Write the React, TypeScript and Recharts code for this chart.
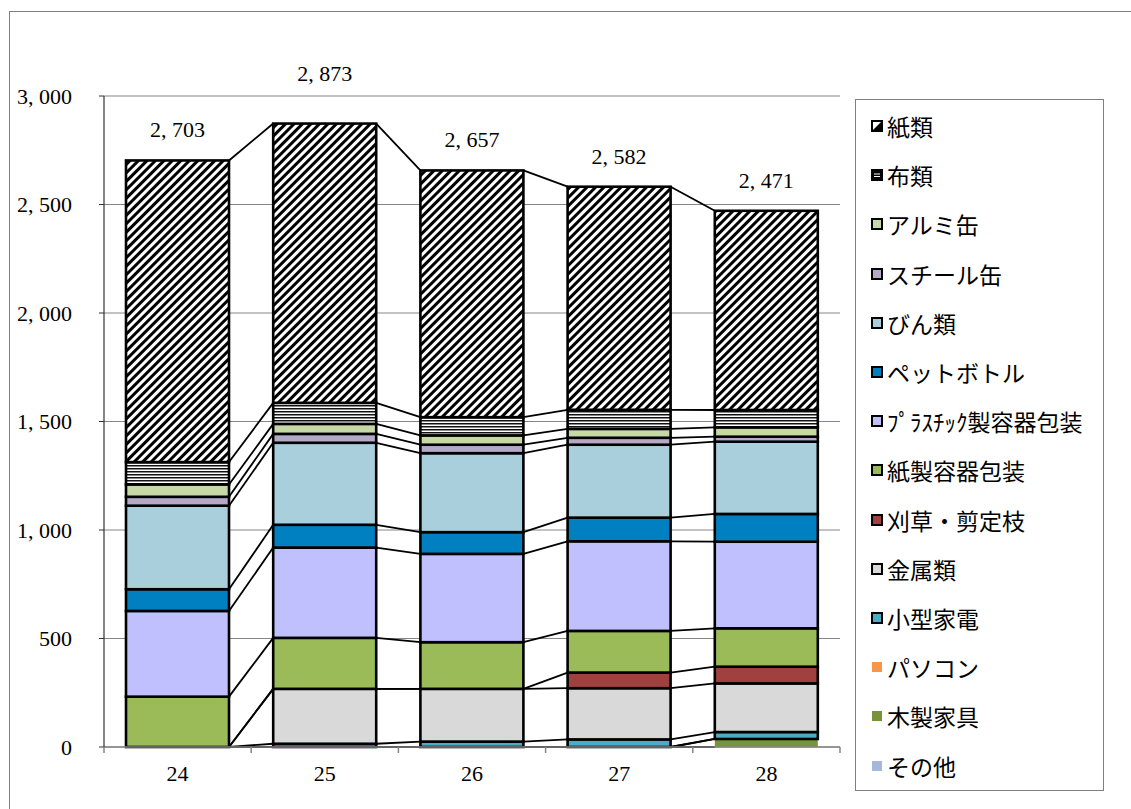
import { BarChart, Bar, XAxis, YAxis, CartesianGrid, LabelList } from 'recharts';

// 年度別の資源回収量（t）— 値はグラフから読み取り
const years = ['24', '25', '26', '27', '28'];
const totals = [2703, 2873, 2657, 2582, 2471];
const yTicks = [0, 500, 1000, 1500, 2000, 2500, 3000];

const sonota = [0, 0, 0, 0, 0];
const mokuseiKagu = [0, 0, 0, 0, 37];
const pasokon = [0, 0, 0, 0, 0];
const kogataKaden = [0, 15, 25, 35, 32];
const kinzoku = [0, 253, 243, 236, 224];
const karikusa = [0, 0, 0, 72, 77];
const kamiYoki = [232, 235, 215, 192, 177];
const pura = [395, 416, 407, 413, 399];
const petto = [100, 105, 100, 109, 128];
const bin = [385, 378, 364, 336, 333];
const steel = [41, 41, 39, 32, 23];
const alumi = [57, 46, 43, 41, 43];
const nuno = [103, 97, 84, 88, 80];
const kami = [1390, 1287, 1137, 1028, 918];

const FONT = '"Times New Roman", "Liberation Serif", "DejaVu Serif", "Noto Sans CJK JP", serif';

// bottom of the stack first
const SERIES = [
  { key: 'sonota', name: 'その他', values: sonota, fill: '#A6B9DA', border: false },
  { key: 'mokusei', name: '木製家具', values: mokuseiKagu, fill: '#77933C', border: false },
  { key: 'pasokon', name: 'パソコン', values: pasokon, fill: '#F79646', border: false },
  { key: 'kaden', name: '小型家電', values: kogataKaden, fill: '#4BACC6', border: true },
  { key: 'kinzoku', name: '金属類', values: kinzoku, fill: '#D9D9D9', border: true },
  { key: 'karikusa', name: '刈草・剪定枝', values: karikusa, fill: '#A0413F', border: true },
  { key: 'kamiYoki', name: '紙製容器包装', values: kamiYoki, fill: '#9BBB59', border: true },
  { key: 'pura', name: 'ﾌﾟﾗｽﾁｯｸ製容器包装', values: pura, fill: '#C0C0FF', border: true },
  { key: 'petto', name: 'ペットボトル', values: petto, fill: '#0080C0', border: true },
  { key: 'bin', name: 'びん類', values: bin, fill: '#A9CEDC', border: true },
  { key: 'steel', name: 'スチール缶', values: steel, fill: '#B5A9C8', border: true },
  { key: 'alumi', name: 'アルミ缶', values: alumi, fill: '#C6D8A6', border: true },
  { key: 'nuno', name: '布類', values: nuno, fill: 'url(#nunoPat)', border: true },
  { key: 'kami', name: '紙類', values: kami, fill: 'url(#kamiPat)', border: true },
];

const rows = years.map((year, i) => {
  const row: Record<string, string | number> = { year };
  SERIES.forEach((s) => {
    row[s.key] = s.values[i];
  });
  return row;
});

const fmt = (v: number) => v.toLocaleString('en-US').replace(',', ', ');

// remembers the top edge of each segment so the next category can draw the series line
const segTops: Record<string, { x: number; y: number; w: number }> = {};

function segmentShape(key: string, fill: string, border: boolean) {
  return (p: any) => {
    const { x, y, width, height, index } = p;
    const prev = index > 0 ? segTops[`${key}:${index - 1}`] : undefined;
    segTops[`${key}:${index}`] = { x, y, w: width };
    return (
      <g>
        {height > 0 && (
          <rect
            x={x}
            y={y}
            width={width}
            height={height}
            fill={fill}
            stroke={border ? '#000' : 'none'}
            strokeWidth={border ? 2.6 : 0}
          />
        )}
        {prev && <line x1={prev.x + prev.w} y1={prev.y} x2={x} y2={y} stroke="#000" strokeWidth={1.8} />}
      </g>
    );
  };
}

const renderTotal = (p: any) => {
  const { x, y, width, index } = p;
  const lift = index === 1 ? 43 : 23;
  return (
    <text x={x + width / 2} y={y - lift} textAnchor="middle" fontSize={22} fontFamily={FONT} fill="#000">
      {fmt(totals[index])}
    </text>
  );
};

function XTick(p: any) {
  const { x, y, payload, index, visibleTicksCount } = p;
  const off = payload?.offset ?? 0;
  const last = index === (visibleTicksCount ?? years.length) - 1;
  return (
    <g>
      <line x1={x - off} y1={y} x2={x - off} y2={y + 6} stroke="#868686" strokeWidth={1.5} />
      {last && <line x1={x + off} y1={y} x2={x + off} y2={y + 6} stroke="#868686" strokeWidth={1.5} />}
      <text x={x} y={y + 34} textAnchor="middle" fontSize={22} fontFamily={FONT} fill="#000">
        {payload.value}
      </text>
    </g>
  );
}

function LegendMark({ s }: { s: (typeof SERIES)[number] }) {
  if (s.key === 'kami') {
    return (
      <svg width={12} height={12}>
        <rect x={1} y={1} width={10} height={10} fill="#fff" stroke="#000" strokeWidth={2} />
        <polygon points="11,1 11,11 1,11" fill="#000" />
      </svg>
    );
  }
  if (s.key === 'nuno') {
    return (
      <svg width={12} height={12}>
        <rect x={1} y={1} width={10} height={10} fill="#000" stroke="#000" strokeWidth={2} />
        <line x1={3} y1={5} x2={9} y2={5} stroke="#fff" strokeWidth={1} />
        <line x1={3} y1={7.5} x2={9} y2={7.5} stroke="#fff" strokeWidth={1} />
      </svg>
    );
  }
  return (
    <svg width={12} height={12}>
      {s.border ? (
        <rect x={1} y={1} width={10} height={10} fill={s.fill} stroke="#000" strokeWidth={2} />
      ) : (
        <rect x={1} y={1} width={10} height={10} fill={s.fill} />
      )}
    </svg>
  );
}

function ChartLegend() {
  const items = [...SERIES].reverse();
  return (
    <div
      style={{
        position: 'absolute',
        left: 855,
        top: 99,
        width: 249,
        height: 692,
        border: '1px solid #7f7f7f',
        boxSizing: 'border-box',
      }}
    >
      {items.map((s, i) => (
        <div
          key={s.key}
          style={{
            position: 'absolute',
            left: 15,
            top: 26 + i * 49.2 - 16,
            height: 32,
            display: 'flex',
            alignItems: 'center',
            whiteSpace: 'nowrap',
          }}
        >
          <LegendMark s={s} />
          <span style={{ marginLeft: 4, fontSize: 23, fontFamily: FONT, color: '#000' }}>{s.name}</span>
        </div>
      ))}
    </div>
  );
}

export default function App() {
  return (
    <div
      style={{
        position: 'fixed',
        left: 0,
        top: 0,
        width: 1131,
        height: 809,
        overflow: 'hidden',
        background: '#fff',
      }}
    >
      <div
        style={{
          position: 'absolute',
          left: 9,
          top: 11,
          width: 1200,
          height: 900,
          border: '1px solid #7f7f7f',
        }}
      />
      <div style={{ position: 'absolute', left: 0, top: 0 }}>
        <BarChart
          width={850}
          height={809}
          data={rows}
          margin={{ top: 96, right: 10, bottom: 22, left: 0 }}
          barSize={103}
        >
          <defs>
            <pattern id="kamiPat" patternUnits="userSpaceOnUse" width={6} height={6} patternTransform="rotate(45)">
              <rect width={6} height={6} fill="#fff" />
              <rect width={3} height={6} fill="#000" />
            </pattern>
            <pattern id="nunoPat" patternUnits="userSpaceOnUse" width={6} height={3}>
              <rect width={6} height={3} fill="#fff" />
              <rect width={6} height={1.5} fill="#111" />
            </pattern>
          </defs>
          <CartesianGrid vertical={false} stroke="#868686" strokeWidth={1} />
          <XAxis
            dataKey="year"
            height={40}
            axisLine={{ stroke: '#868686', strokeWidth: 1.5 }}
            tickLine={false}
            tickSize={0}
            tickMargin={0}
            tick={<XTick />}
            interval={0}
          />
          <YAxis
            width={104}
            domain={[0, 3000]}
            ticks={yTicks}
            interval={0}
            axisLine={{ stroke: '#333', strokeWidth: 1.2 }}
            tickLine={{ stroke: '#333' }}
            tickSize={5}
            tickMargin={27}
            tickFormatter={fmt}
            tick={{ fontSize: 22, fontFamily: FONT, fill: '#000' }}
          />
          {SERIES.map((s) => (
            <Bar
              key={s.key}
              dataKey={s.key}
              name={s.name}
              stackId="a"
              fill={s.fill}
              isAnimationActive={false}
              shape={segmentShape(s.key, s.fill, s.border)}
            >
              {s.key === 'kami' && <LabelList dataKey="kami" content={renderTotal} />}
            </Bar>
          ))}
        </BarChart>
      </div>
      <ChartLegend />
    </div>
  );
}
